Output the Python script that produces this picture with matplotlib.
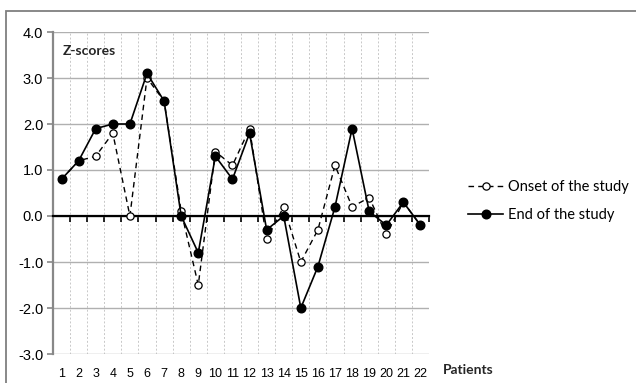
import numpy as np
import matplotlib
matplotlib.use("Agg")
import matplotlib.pyplot as plt
from matplotlib.patches import Rectangle

# data
patients = list(range(1, 23))
onset = [0.8, 1.2, 1.3, 1.8, 0.0, 3.0, 2.5, 0.1, -1.5, 1.4, 1.1,
         1.9, -0.5, 0.2, -1.0, -0.3, 1.1, 0.2, 0.4, -0.4, 0.3, -0.2]
end = [0.8, 1.2, 1.9, 2.0, 2.0, 3.1, 2.5, 0.0, -0.8, 1.3, 0.8,
       1.8, -0.3, 0.0, -2.0, -1.1, 0.2, 1.9, 0.1, -0.2, 0.3, -0.2]
y_ticks = [-3, -2, -1, 0, 1, 2, 3, 4]

plt.rcParams['font.family'] = ['Liberation Sans', 'DejaVu Sans']
label_font = ['Lato', 'DejaVu Sans']

fig = plt.figure(figsize=(6.36, 3.83), dpi=100)
W, H = 636, 383
ax = fig.add_axes([53 / W, 1 - 354 / H, (429 - 53) / W, (354 - 32) / H])

# outer chart frame (only top and left edge visible in the crop)
fig.patches.append(Rectangle((6 / W, -0.1), 1.2, 1 - 11 / H + 0.1,
                             transform=fig.transFigure, fill=False,
                             edgecolor='#7f7f7f', linewidth=1.3))

ax.plot(patients, onset, linestyle=(0, (4, 3)), color='black', linewidth=1.0,
        marker='o', markersize=5.2, markerfacecolor='white',
        markeredgecolor='black', markeredgewidth=0.9,
        label='Onset of the study', zorder=3)
ax.plot(patients, end, linestyle='-', color='black', linewidth=1.2,
        marker='o', markersize=6.2, markerfacecolor='black',
        markeredgecolor='black', label='End of the study', zorder=4)

ax.set_xlim(0.5, 22.5)
ax.set_ylim(-3, 4)

# y axis
ax.set_yticks(y_ticks)
ax.set_yticklabels([f'{v:.1f}' for v in y_ticks], fontsize=10.5)
ax.tick_params(axis='y', direction='out', length=4, color='#888888',
               width=1.2, pad=3)
ax.spines['left'].set_color('#888888')
ax.spines['left'].set_linewidth(1.6)
ax.spines['right'].set_visible(False)
ax.spines['top'].set_visible(False)

# category axis crossing at zero with ticks between the categories
bounds = np.arange(0.5, 23, 1.0)
ax.spines['bottom'].set_position(('data', 0))
ax.spines['bottom'].set_linewidth(1.6)
ax.spines['bottom'].set_color('black')
ax.set_xticks(bounds)
ax.set_xticklabels([''] * len(bounds))
ax.tick_params(axis='x', direction='out', length=4, width=1.2, color='black')

sec = ax.secondary_xaxis(0)
sec.set_xticks(patients)
sec.set_xticklabels([str(p) for p in patients], fontsize=9)
sec.tick_params(length=0, pad=10)
sec.spines['bottom'].set_visible(False)

ax.grid(axis='y', color='#b0b0b0', linewidth=1.0, zorder=0)
ax.grid(axis='x', color='#c8c8c8', linewidth=0.7, linestyle=(0, (2, 2)), zorder=0)
ax.set_axisbelow(True)

ax.text(0.025, 0.96, 'Z-scores', transform=ax.transAxes, fontsize=10,
        fontweight='bold', family=label_font, va='top', ha='left',
        color='#262626')
fig.text(443 / W, 1 - 370 / H, 'Patients', fontsize=10, fontweight='bold',
         family=label_font, va='center', ha='left', color='#262626')

fig.legend(loc='center left', bbox_to_anchor=(455 / W, 1 - 201 / H),
           frameon=False, handlelength=2.4, handletextpad=0.35,
           labelspacing=1.0, prop={'family': label_font, 'size': 10.5})

fig.savefig('out.png', dpi=100)
